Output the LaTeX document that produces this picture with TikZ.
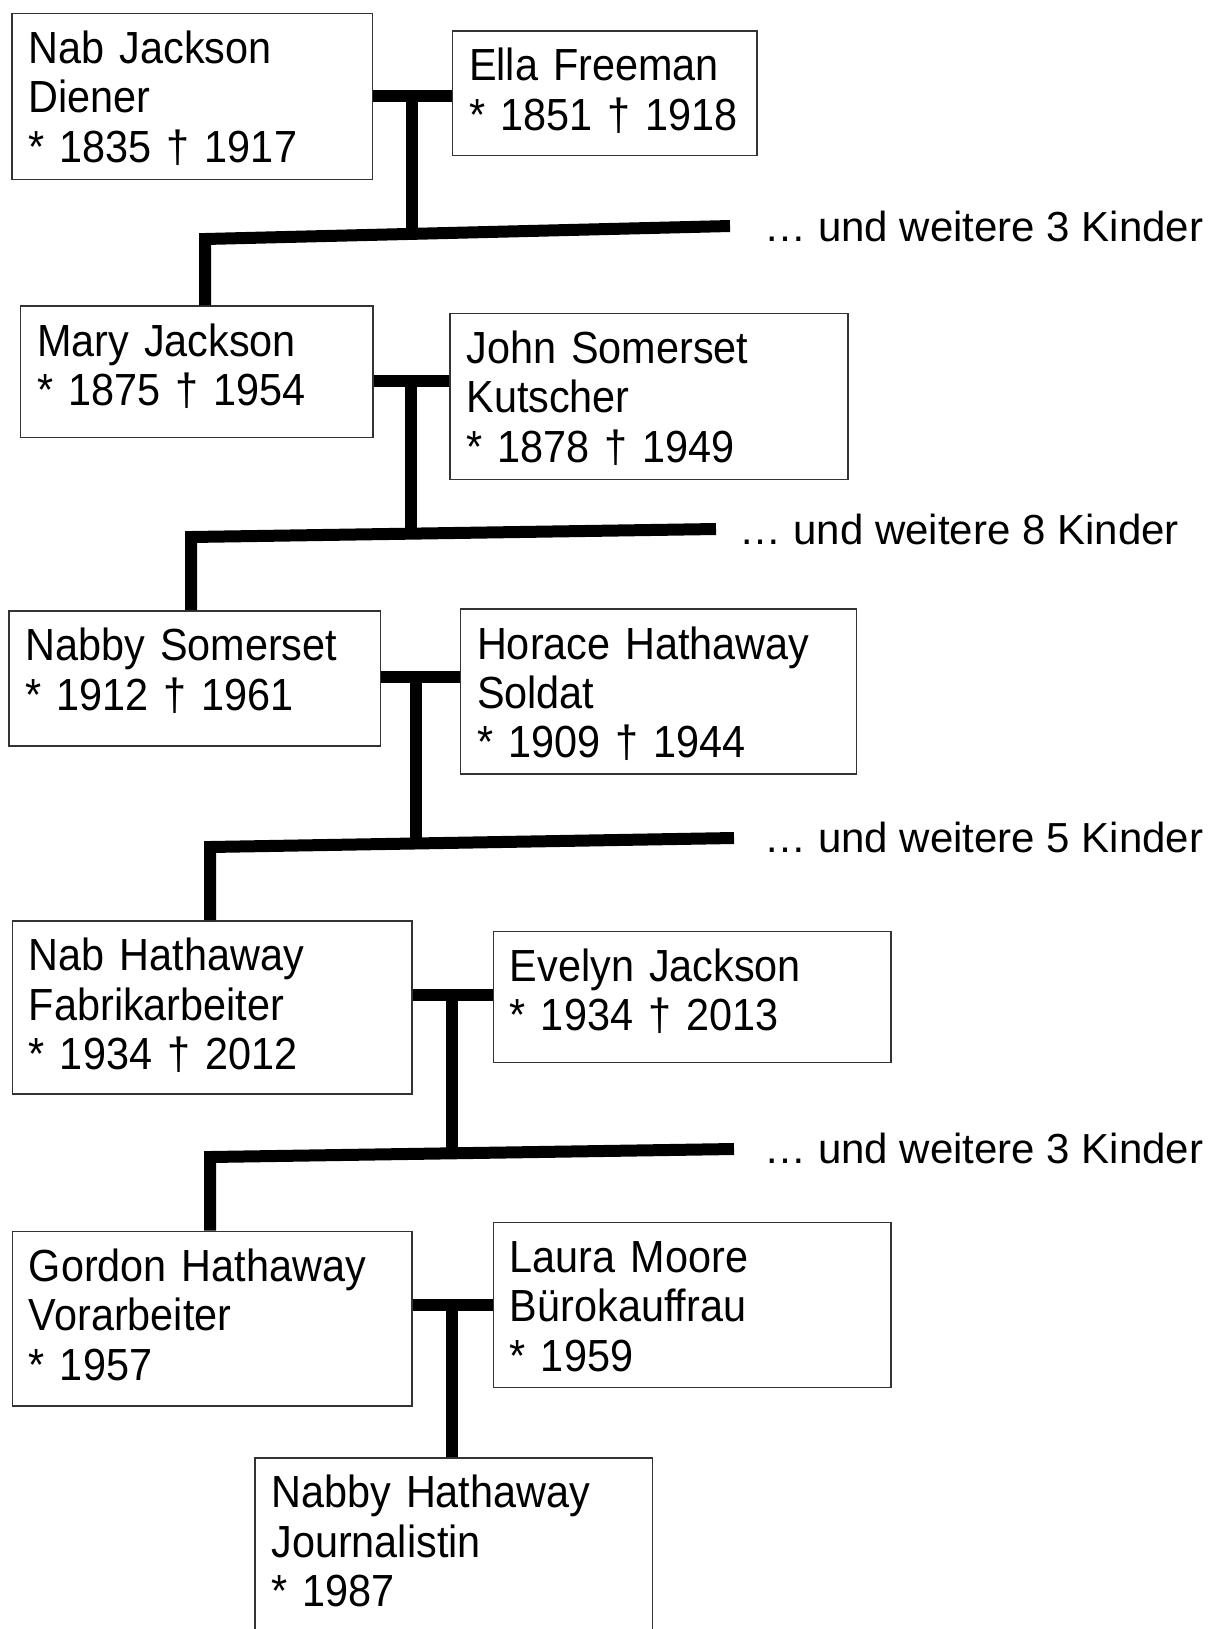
\documentclass[tikz,border=0pt]{standalone}
\usepackage{fontspec}
\setmainfont{Liberation Sans}
\newfontfamily\boxfont{Liberation Sans}[FakeStretch=0.92, WordSpace=0.75]

\tikzset{
  person/.style={draw=black!80, line width=0.8pt, anchor=north west,
    inner xsep=8.3pt, inner ysep=0pt, align=left, text height=25pt,
    font=\boxfont\fontsize{22.5}{24.7}\selectfont},
  bond/.style={line width=6pt},
  more/.style={anchor=west, inner sep=0pt, font=\fontsize{21}{24}\selectfont},
}

\begin{document}
\begin{tikzpicture}[x=0.5pt,y=-0.5pt]
\useasboundingbox (0,0) rectangle (1215,1629);
\clip (0,0) rectangle (1215,1629);

% Generation 1
\node[person, text width=163.6pt, text depth=58pt] (njack) at (11.4,12.5)
  {Nab Jackson\\Diener\\{*} 1835 † 1917};
\node[person, text width=135.6pt, text depth=37.3pt] (efree) at (451.7,30.1)
  {Ella Freeman\\{*} 1851 † 1918};
\coordinate (p1) at (412,96);
\coordinate (c1l) at (205,239);
\coordinate (c1r) at (730,226);
\node[more] (kids1) at (764,226) {… und weitere 3 Kinder};

% Generation 2
\node[person, text width=159.5pt, text depth=40.6pt] (mjack) at (19.7,305.3)
  {Mary Jackson\\{*} 1875 † 1954};
\node[person, text width=182.6pt, text depth=57.9pt] (jsom) at (449,312.7)
  {John Somerset\\Kutscher\\{*} 1878 † 1949};
\coordinate (p2) at (411,381);
\coordinate (c2l) at (191,537);
\coordinate (c2r) at (716,529);
\node[more] (kids2) at (739.5,529.6) {… und weitere 8 Kinder};

% Generation 3
\node[person, text width=169.2pt, text depth=42.5pt] (nsom) at (8,610)
  {Nabby Somerset\\{*} 1912 † 1961};
\node[person, text width=181.4pt, text depth=57.5pt] (hhath) at (459.7,608.3)
  {Horace Hathaway\\Soldat\\{*} 1909 † 1944};
\coordinate (p3) at (416,677);
\coordinate (c3l) at (210,847);
\coordinate (c3r) at (734,838);
\node[more] (kids3) at (764,837) {… und weitere 5 Kinder};

% Generation 4
\node[person, text width=183.1pt, text depth=61.5pt] (nhath) at (11.5,920)
  {Nab Hathaway\\Fabrikarbeiter\\{*} 1934 † 2012};
\node[person, text width=182.1pt, text depth=40.5pt] (ejack) at (492.5,930.7)
  {Evelyn Jackson\\{*} 1934 † 2013};
\coordinate (p4) at (452,995);
\coordinate (c4l) at (210,1157);
\coordinate (c4r) at (734,1149);
\node[more] (kids4) at (764,1148.6) {… und weitere 3 Kinder};

% Generation 5
\node[person, text width=183.1pt, text depth=62.1pt] (ghath) at (11.5,1230.7)
  {Gordon Hathaway\\Vorarbeiter\\{*} 1957};
\node[person, text width=182.1pt, text depth=57.5pt] (lmoore) at (492.5,1221.7)
  {Laura Moore\\Bürokauffrau\\{*} 1959};
\coordinate (p5) at (452,1305);
\node[person, text width=182.2pt, text depth=70pt] (nbhath) at (254,1457)
  {Nabby Hathaway\\Journalistin\\{*} 1987};

% couples and children
\draw[bond] (p1 -| njack.east) -- (p1 -| efree.west);
\draw[bond] (p1) -- (p1 |- c1l);
\draw[bond] (c1r) -- (c1l) -- (c1l |- mjack.north);

\draw[bond] (p2 -| mjack.east) -- (p2 -| jsom.west);
\draw[bond] (p2) -- (p2 |- c2l);
\draw[bond] (c2r) -- (c2l) -- (c2l |- nsom.north);

\draw[bond] (p3 -| nsom.east) -- (p3 -| hhath.west);
\draw[bond] (p3) -- (p3 |- c3l);
\draw[bond] (c3r) -- (c3l) -- (c3l |- nhath.north);

\draw[bond] (p4 -| nhath.east) -- (p4 -| ejack.west);
\draw[bond] (p4) -- (p4 |- c4l);
\draw[bond] (c4r) -- (c4l) -- (c4l |- ghath.north);

\draw[bond] (p5 -| ghath.east) -- (p5 -| lmoore.west);
\draw[bond] (p5) -- (p5 |- nbhath.north);
\end{tikzpicture}
\end{document}
